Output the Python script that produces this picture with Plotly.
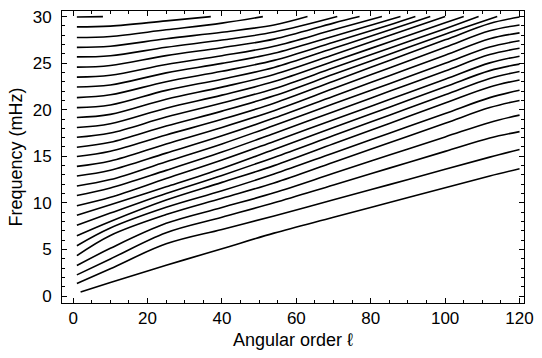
import plotly.graph_objects as go

# Angular degree grid at which each ridge frequency is tabulated
ell_grid = [1, 10, 25, 40, 54, 70, 85, 100, 112, 120]

# Ridge frequencies (mHz), lowest ridge first; a ridge that climbs past the
# top of the frame stops early and is closed at ridge_top_ell below.
nu_r00 = [0.43, 1.45, 3.3, 5.08, 6.75, 8.45, 10.04, 11.63, 12.89, 13.67]
nu_r01 = [1.35, 2.93, 5.6, 7.15, 8.59, 10.33, 11.96, 13.6, 14.91, 15.73]
nu_r02 = [2.27, 3.98, 6.8, 8.46, 10.01, 11.93, 13.73, 15.53, 16.97, 17.65]
nu_r03 = [3.27, 5.12, 7.8, 9.5, 11.08, 13.17, 15.13, 17.08, 18.64, 19.42]
nu_r04 = [4.33, 6.5, 8.74, 10.5, 12.14, 14.37, 16.46, 18.55, 20.23, 21.0]
nu_r05 = [5.40, 7.3, 9.52, 11.3, 13.1, 15.36, 17.48, 19.6, 21.3, 22.1]
nu_r06 = [6.46, 8.0, 10.30, 12.2, 14.0, 16.34, 18.53, 20.72, 22.44, 23.2]
nu_r07 = [7.60, 8.9, 11.01, 12.95, 14.88, 17.22, 19.41, 21.6, 23.36, 24.1]
nu_r08 = [8.67, 9.8, 11.72, 13.7, 15.74, 18.08, 20.27, 22.46, 24.2, 24.9]
nu_r09 = [9.69, 10.6, 12.61, 14.6, 16.6, 18.92, 21.1, 23.27, 25.03, 25.75]
nu_r10 = [10.80, 11.6, 13.49, 15.45, 17.45, 19.79, 21.98, 24.17, 25.92, 26.6]
nu_r11 = [11.82, 12.5, 14.42, 16.33, 18.3, 20.63, 22.8, 24.98, 26.73, 27.4]
nu_r12 = [12.89, 13.5, 15.34, 17.2, 19.1, 21.45, 23.65, 25.85, 27.62, 28.25]
nu_r13 = [13.92, 14.5, 16.33, 18.1, 19.9, 22.27, 24.49, 26.71, 28.48, 29.1]
nu_r14 = [14.98, 15.55, 17.29, 18.97, 20.7, 23.07, 25.29, 27.5, 29.26, 29.95]
nu_r15 = [15.97, 16.5, 18.25, 19.85, 21.5, 23.8, 25.95, 28.1]
nu_r16 = [17.04, 17.5, 19.21, 20.72, 22.26, 24.5, 26.6, 28.7]
nu_r17 = [18.10, 18.5, 20.17, 21.57, 23.02, 25.2, 27.27, 29.33]
nu_r18 = [19.17, 19.5, 21.13, 22.43, 23.78, 25.9, 27.98]
nu_r19 = [20.23, 20.5, 22.08, 23.28, 24.54, 26.6, 28.55]
nu_r20 = [21.30, 21.6, 23.01, 24.13, 25.3, 27.25, 29.1]
nu_r21 = [22.44, 22.65, 23.96, 24.98, 26.06, 27.9, 29.65]
nu_r22 = [23.50, 23.7, 24.85, 25.8, 26.82, 28.58]
nu_r23 = [24.57, 24.75, 25.81, 26.66, 27.58, 29.3]
nu_r24 = [25.67, 25.8, 26.70, 27.48, 28.34]
nu_r25 = [26.70, 26.82, 27.62, 28.32, 29.1]
nu_r26 = [27.76, 27.87, 28.58, 29.3]
nu_r27 = [28.90, 28.98, 29.54]
nu_r28 = [29.96]

ridges = [nu_r00, nu_r01, nu_r02, nu_r03, nu_r04, nu_r05, nu_r06, nu_r07,
          nu_r08, nu_r09, nu_r10, nu_r11, nu_r12, nu_r13, nu_r14, nu_r15,
          nu_r16, nu_r17, nu_r18, nu_r19, nu_r20, nu_r21, nu_r22, nu_r23,
          nu_r24, nu_r25, nu_r26, nu_r27, nu_r28]

# First degree of each ridge (the lowest one starts at l = 2)
ridge_first_ell = [2] + [1] * 28
# Degree at which a ridge reaches the 30 mHz ceiling (None: runs to l = 120)
ridge_top_ell = [None] * 15 + [114, 109, 105, 100, 96, 92, 88, 83, 77,
                               71, 63, 51, 37, 8]
nu_top = 30.0

x_ticks = [0, 20, 40, 60, 80, 100, 120]
y_ticks = [0, 5, 10, 15, 20, 25, 30]

fig = go.Figure()
for vals, first, top in zip(ridges, ridge_first_ell, ridge_top_ell):
    xs = [first] + ell_grid[1:len(vals)]
    ys = list(vals)
    if top is not None:
        xs.append(top)
        ys.append(nu_top)
    fig.add_trace(go.Scatter(
        x=xs, y=ys, mode="lines",
        line=dict(color="black", width=1.6, shape="spline", smoothing=1.0),
        hoverinfo="skip", showlegend=False,
    ))

font = dict(family="Liberation Sans, Arial, Helvetica, sans-serif",
            size=17, color="black")
axis_common = dict(
    showline=True, linecolor="black", linewidth=1, mirror="allticks",
    ticks="inside", ticklen=5, tickwidth=1, tickcolor="black",
    showgrid=False, zeroline=False, tickfont=font,
    ticklabeloverflow="allow",
)

fig.update_xaxes(
    range=[-3, 121.2], tickvals=x_ticks,
    minor=dict(dtick=5, ticks="inside", ticklen=3, tickcolor="black"),
    title=dict(text="Angular order ℓ", font=dict(font, size=18), standoff=5),
    **axis_common,
)
fig.update_yaxes(
    range=[-0.75, 30.6], tickvals=y_ticks,
    minor=dict(dtick=1, ticks="inside", ticklen=3, tickcolor="black"),
    title=dict(text="Frequency (mHz)", font=dict(font, size=18), standoff=5),
    ticklabelstandoff=6,
    **axis_common,
)

fig.update_layout(
    width=542, height=358,
    margin=dict(l=62, r=8, t=9, b=55),
    paper_bgcolor="white", plot_bgcolor="white",
    font=font,
)

fig.write_html("out.html")
